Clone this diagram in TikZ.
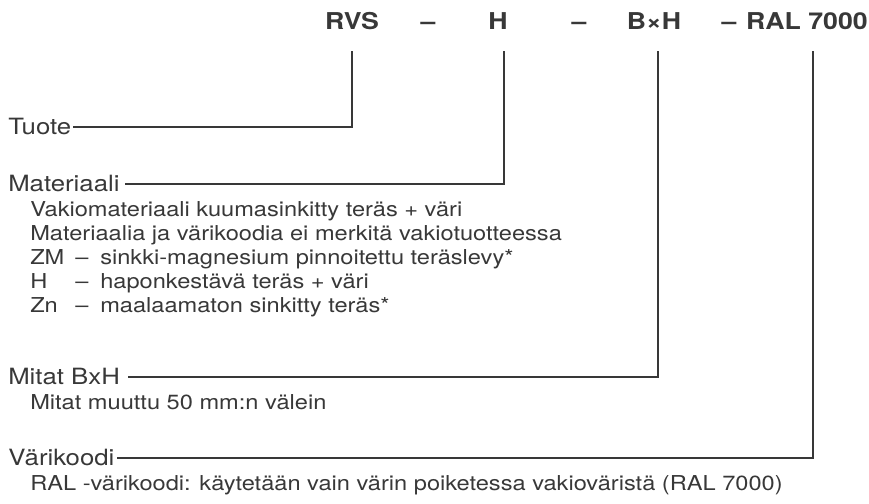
\documentclass[tikz,border=0pt]{standalone}
\usepackage{fontspec}
\setmainfont{TeX Gyre Heros}
\newfontfamily\widefont[FakeStretch=1.15]{TeX Gyre Heros}
\begin{document}
\begin{tikzpicture}[x=0.75pt,y=-0.75pt,
  ink/.style={color=black!78},
  hdr/.style={ink,font=\widefont\fontsize{17.4}{20}\selectfont\bfseries,inner sep=0pt,anchor=base},
  lbl/.style={ink,font=\widefont\fontsize{16.8}{20}\selectfont,inner sep=0pt,anchor=base west},
  sub/.style={ink,font=\widefont\fontsize{15.4}{18}\selectfont,inner sep=0pt,anchor=base west},
  conn/.style={draw=black!78,line width=0.9pt}]
\useasboundingbox (0,0) rectangle (869,504);
% header
\node[hdr] (rvs) at (352,29) {RVS};
\node[hdr] (d1) at (428,29) {–};
\node[hdr] (h) at (498,29) {H};
\node[hdr] (d2) at (579,29) {–};
\node[hdr] (bxh) at (654,29) {B×H};
\node[hdr] (d3) at (729,29) {–};
\node[hdr,anchor=base east] (ral) at (868,29) {RAL 7000};
\coordinate (c1) at (352,51);
\coordinate (c2) at (504,51);
\coordinate (c3) at (658,51);
\coordinate (c4) at (813,51);
% labels
\node[lbl] (tuote) at (8,134) {Tuote};
\node[lbl] (mat) at (8,191) {Materiaali};
\node[sub] (s1) at (30,216) {Vakiomateriaali kuumasinkitty teräs + väri};
\node[sub] (s2) at (30,240) {Materiaalia ja värikoodia ei merkitä vakiotuotteessa};
\node[sub] (zm) at (30,264) {ZM};
\node[sub] (zmd) at (75,264) {–};
\node[sub] (zmt) at (100,264) {sinkki-magnesium pinnoitettu teräslevy*};
\node[sub] (hh) at (30,288) {H};
\node[sub] (hd) at (75,288) {–};
\node[sub] (ht) at (100,288) {haponkestävä teräs + väri};
\node[sub] (zn) at (30,312) {Zn};
\node[sub] (znd) at (75,312) {–};
\node[sub] (znt) at (100,312) {maalaamaton sinkitty teräs*};
\node[lbl] (mit) at (8,384) {Mitat BxH};
\node[sub] (s3) at (30,409) {Mitat muuttu 50 mm:n välein};
\node[lbl] (var) at (8,465) {Värikoodi};
\node[sub] (s4) at (30,490) {RAL -värikoodi: käytetään vain värin poiketessa vakioväristä (RAL 7000)};
% connectors
\draw[conn] ([xshift=1.5pt]tuote.east |- 0,127) -- (352,127) coordinate (e1) -- (c1);
\draw[conn] ([xshift=4pt]mat.east |- 0,184) -- (504,184) coordinate (e2) -- (c2);
\draw[conn] ([xshift=6pt]mit.east |- 0,377) -- (658,377) coordinate (e3) -- (c3);
\draw[conn] ([xshift=2pt]var.east |- 0,458) -- (813,458) coordinate (e4) -- (c4);
\end{tikzpicture}
\end{document}
